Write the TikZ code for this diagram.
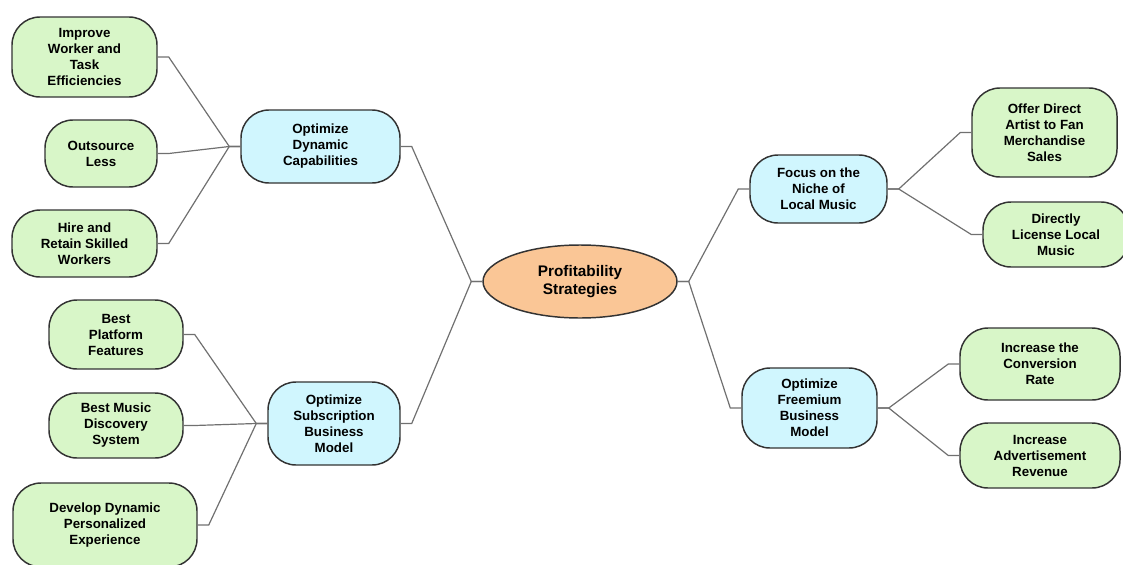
\documentclass[tikz,border=0pt]{standalone}
\usepackage{fontspec}
\setmainfont{Liberation Sans}
\usetikzlibrary{shapes.geometric}

\definecolor{leafgreen}{RGB}{216,246,200}
\definecolor{branchcyan}{RGB}{208,246,254}
\definecolor{huborange}{RGB}{250,198,150}
\definecolor{spokegray}{RGB}{112,112,112}

\tikzset{every picture/.style={line width=0.75pt}}
\tikzset{
  idea/.style={draw=black!80, line width=1.1pt, rounded corners=21pt, align=center, inner sep=2pt,
    font=\fontsize{10}{12}\selectfont\bfseries},
  leaf/.style={idea, fill=leafgreen},
  branch/.style={idea, fill=branchcyan},
  hub/.style={ellipse, draw=black!80, line width=1.1pt, fill=huborange, align=center, inner sep=1pt,
    font=\fontsize{11.5}{13.5}\selectfont\bfseries},
  % stub, diagonal, stub
  spoke/.style={draw=spokegray, line width=0.9pt,
    to path={-- ++(11,0) -- ([xshift=-8.25pt]\tikztotarget) -- (\tikztotarget)}},
}

\begin{document}
\begin{tikzpicture}[x=0.75pt,y=0.75pt,yscale=-1,xscale=1]
\useasboundingbox (0,0) rectangle (1123,564);
\clip (0,0) rectangle (1123,564);

% Centre
\node[hub, minimum width=145.5pt, minimum height=54.75pt] (prof) at (580,281.5) {Profitability\\Strategies};

% Branches
\node[branch, minimum width=119.25pt, minimum height=54.75pt] (dyn) at (320.5,146.5) {Optimize\\Dynamic\\Capabilities};
\node[branch, minimum width=99pt, minimum height=62.25pt] (subs) at (334,423.5) {Optimize\\Subscription\\Business\\Model};
\node[branch, minimum width=102.75pt, minimum height=51pt] (niche) at (818.5,189) {Focus on the\\Niche of\\Local Music};
\node[branch, minimum width=101.25pt, minimum height=60pt] (free) at (809.5,408) {Optimize\\Freemium\\Business\\Model};

% Leaves, left top
\node[leaf, minimum width=108.75pt, minimum height=60pt] (imp) at (84.5,57) {Improve\\Worker and\\Task\\Efficiencies};
\node[leaf, minimum width=84pt, minimum height=50.25pt] (outs) at (101,153.5) {Outsource\\Less};
\node[leaf, minimum width=108.75pt, minimum height=50.25pt] (hire) at (84.5,243.5) {Hire and\\Retain Skilled\\Workers};

% Leaves, left bottom
\node[leaf, minimum width=100.5pt, minimum height=51.75pt] (plat) at (116,334.5) {Best\\Platform\\Features};
\node[leaf, minimum width=100.5pt, minimum height=48.75pt] (disc) at (116,425.5) {Best Music\\Discovery\\System};
\node[leaf, minimum width=138pt, minimum height=63pt] (pers) at (105,525) {Develop Dynamic\\Personalized\\Experience};

% Leaves, right
\node[leaf, minimum width=108.75pt, minimum height=66.75pt] (merch) at (1044.5,132.5) {Offer Direct\\Artist to Fan\\Merchandise\\Sales};
\node[leaf, minimum width=109.5pt, minimum height=48.75pt] (lic) at (1056,234.5) {Directly\\License Local\\Music};
\node[leaf, minimum width=120pt, minimum height=54pt] (conv) at (1040,364) {Increase the\\Conversion\\Rate};
\node[leaf, minimum width=120pt, minimum height=48.75pt] (adv) at (1040,455.5) {Increase\\Advertisement\\Revenue};

% Connectors
\draw[spoke] (dyn.east) to (prof.west);
\draw[spoke] (subs.east) to (prof.west);
\draw[spoke] (prof.east) to (niche.west);
\draw[spoke] (prof.east) to (free.west);

\draw[spoke] (imp.east) to (dyn.west);
\draw[spoke] (outs.east) to (dyn.west);
\draw[spoke] (hire.east) to (dyn.west);

\draw[spoke] (plat.east) to (subs.west);
\draw[spoke] (disc.east) to (subs.west);
\draw[spoke] (pers.east) to (subs.west);

\draw[spoke] (niche.east) to (merch.west);
\draw[spoke] (niche.east) to (lic.west);
\draw[spoke] (free.east) to (conv.west);
\draw[spoke] (free.east) to (adv.west);

\end{tikzpicture}
\end{document}
